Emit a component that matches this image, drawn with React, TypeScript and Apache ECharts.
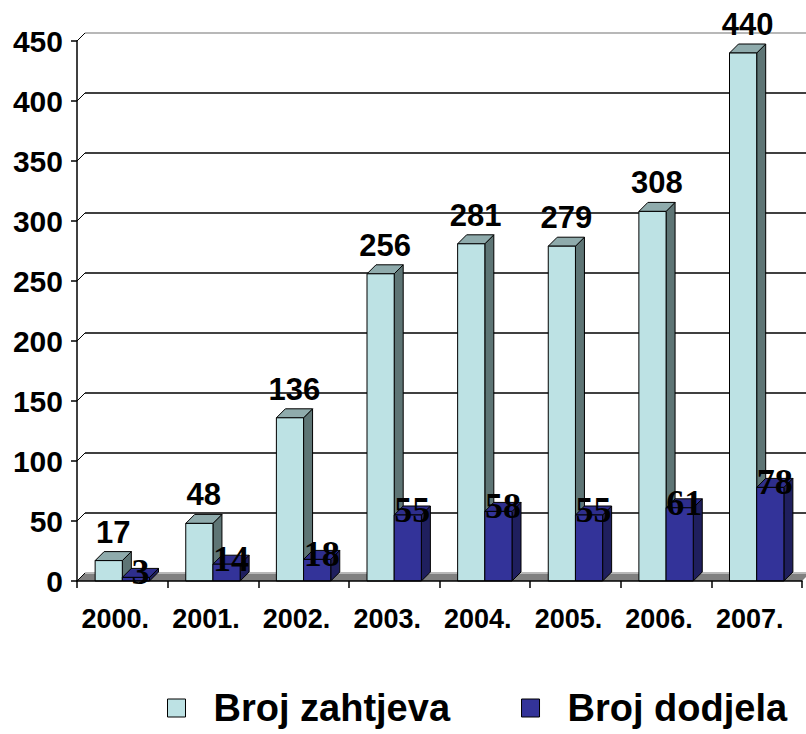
import React, { useEffect, useRef } from "react";
import * as echarts from "echarts";

const categories = ["2000.", "2001.", "2002.", "2003.", "2004.", "2005.", "2006.", "2007."];
const zahtjeva = [17, 48, 136, 256, 281, 279, 308, 440];
const dodjela = [3, 14, 18, 55, 58, 55, 61, 78];
const yTicks = [0, 50, 100, 150, 200, 250, 300, 350, 400, 450];
const seriesNames = ["Broj zahtjeva", "Broj dodjela"];

const SANS = "'Liberation Sans', Arial, sans-serif";
const SERIF = "'Liberation Serif', 'Times New Roman', serif";

const LIGHT = { front: "#BDE2E4", top: "#8FABAC", side: "#5E7575" };
const DARK = { front: "#333399", top: "#2E2E8C", side: "#1F1F5E" };
const D = 9;
const WD = 8;

function barRender(kind: number) {
  const c = kind === 0 ? LIGHT : DARK;
  return (params: any, api: any) => {
    const idx = api.value(0);
    const v = api.value(1);
    const top = api.coord([idx, v]);
    const base = api.coord([idx, 0]);
    const band = api.size([1, 0])[0];
    const w = band * 0.3;
    const x0 = kind === 0 ? top[0] - w : top[0];
    const x1 = x0 + w;
    const yT = top[1];
    const yB = base[1];
    const cx = (x0 + x1) / 2 + D / 2;
    const label =
      kind === 0
        ? {
            type: "text",
            x: cx,
            y: yT - D - 4,
            style: {
              text: String(v),
              fill: "#000",
              font: `bold 31px ${SANS}`,
              align: "center",
              verticalAlign: "bottom",
            },
          }
        : {
            type: "text",
            x: cx,
            y: yT - 5,
            style: {
              text: String(v),
              fill: "#000",
              font: `bold 36px ${SERIF}`,
              align: "center",
              verticalAlign: "middle",
            },
          };
    return {
      type: "group",
      children: [
        {
          type: "polygon",
          shape: { points: [[x1, yB], [x1 + D, yB - D], [x1 + D, yT - D], [x1, yT]] },
          style: { fill: c.side, stroke: "#000", lineWidth: 1 },
        },
        {
          type: "polygon",
          shape: { points: [[x0, yT], [x0 + D, yT - D], [x1 + D, yT - D], [x1, yT]] },
          style: { fill: c.top, stroke: "#000", lineWidth: 1 },
        },
        {
          type: "rect",
          shape: { x: x0, y: yT, width: w, height: yB - yT },
          style: { fill: c.front, stroke: "#000", lineWidth: 1 },
        },
        label,
      ],
    };
  };
}

function wallRender(params: any, api: any) {
  const v = api.value(1);
  const y = api.coord([0, v])[1];
  const cs = params.coordSys;
  const gx = cs.x;
  const gw = cs.width;
  const edge = v === 0 || v === yTicks[yTicks.length - 1];
  const color = edge ? "#B8B8B8" : "#000";
  const children: any[] = [];
  if (v === 0) {
    children.push({
      type: "polygon",
      shape: { points: [[gx, y], [gx + gw, y], [gx + gw + WD, y - WD], [gx + WD, y - WD]] },
      style: { fill: "#808080", stroke: "none" },
    });
  }
  children.push({
    type: "line",
    shape: { x1: gx, y1: y, x2: gx + WD, y2: y - WD },
    style: { stroke: "#000", lineWidth: 1 },
  });
  children.push({
    type: "line",
    shape: { x1: gx + WD, y1: y - WD, x2: gx + gw + 40, y2: y - WD },
    style: { stroke: color, lineWidth: edge ? 2 : 1.5 },
  });
  return { type: "group", children };
}

export default function App() {
  const ref = useRef<HTMLDivElement>(null);
  useEffect(() => {
    if (!ref.current) return;
    const chart = echarts.init(ref.current, undefined, { renderer: "svg" });
    chart.setOption({
      animation: false,
      backgroundColor: "#fff",
      grid: { left: 77, right: 4, top: 41, bottom: 153, containLabel: false },
      legend: {
        left: 167,
        top: 689,
        padding: 0,
        itemWidth: 18,
        itemHeight: 18,
        itemGap: 71,
        textStyle: { fontSize: 38, fontWeight: "bold", fontFamily: SANS, color: "#000", padding: [0, 0, 0, 23] },
        data: [
          { name: seriesNames[0], icon: "rect", itemStyle: { color: LIGHT.front, borderColor: "#000", borderWidth: 1 } },
          { name: seriesNames[1], icon: "rect", itemStyle: { color: DARK.front, borderColor: "#000", borderWidth: 1 } },
        ],
      },
      xAxis: {
        type: "category",
        data: categories,
        z: 10,
        axisLine: { lineStyle: { color: "#000", width: 1.5 } },
        axisTick: { show: true, length: 7, lineStyle: { color: "#000", width: 1.5 } },
        axisLabel: {
          interval: 0,
          margin: 24,
          color: "#000",
          fontSize: 27,
          fontWeight: "bold",
          fontFamily: SANS,
          padding: [0, 14, 0, 0],
        },
      },
      yAxis: {
        type: "value",
        min: 0,
        max: 450,
        interval: 50,
        z: 10,
        axisLine: { show: true, lineStyle: { color: "#000", width: 1.5 } },
        axisTick: { show: true, length: 6, lineStyle: { color: "#000", width: 1.5 } },
        splitLine: { show: false },
        axisLabel: { margin: 14, color: "#000", fontSize: 30, fontWeight: "bold", fontFamily: SANS },
      },
      series: [
        {
          type: "custom",
          name: "wall",
          z: 1,
          silent: true,
          renderItem: wallRender,
          encode: { x: 0, y: 1 },
          data: yTicks.map((t) => [0, t]),
        },
        {
          type: "custom",
          name: seriesNames[0],
          z: 3,
          itemStyle: { color: LIGHT.front },
          renderItem: barRender(0),
          encode: { x: 0, y: 1 },
          data: zahtjeva.map((v, i) => [i, v]),
        },
        {
          type: "custom",
          name: seriesNames[1],
          z: 4,
          itemStyle: { color: DARK.front },
          renderItem: barRender(1),
          encode: { x: 0, y: 1 },
          data: dodjela.map((v, i) => [i, v]),
        },
      ],
    });
    return () => chart.dispose();
  }, []);
  return <div ref={ref} style={{ position: "absolute", left: 0, top: 0, width: 806, height: 734 }} />;
}
